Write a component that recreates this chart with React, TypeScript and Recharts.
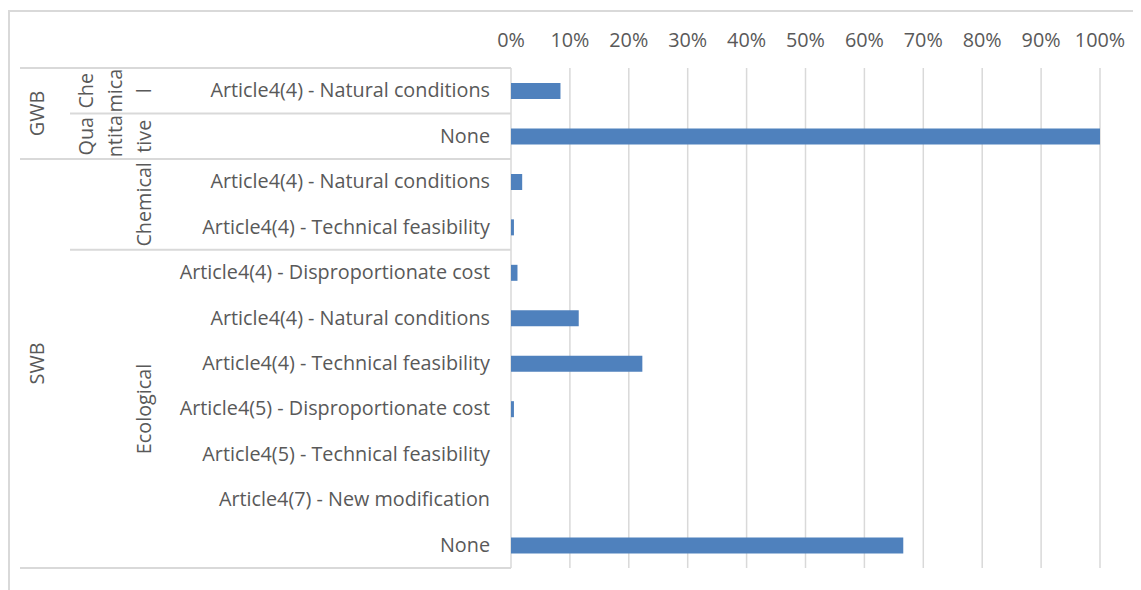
import React from "react";
import { BarChart, Bar, XAxis, YAxis, CartesianGrid } from "recharts";

// ---- data ----
const categoryLabels = [
  "Article4(4) - Natural conditions",
  "None",
  "Article4(4) - Natural conditions",
  "Article4(4) - Technical feasibility",
  "Article4(4) - Disproportionate cost",
  "Article4(4) - Natural conditions",
  "Article4(4) - Technical feasibility",
  "Article4(5) - Disproportionate cost",
  "Article4(5) - Technical feasibility",
  "Article4(7) - New modification",
  "None",
];
const shareValues = [0.084, 1.0, 0.019, 0.005, 0.011, 0.115, 0.223, 0.005, 0, 0, 0.666];
const level0Groups = [
  { name: "GWB", start: 0, count: 2 },
  { name: "SWB", start: 2, count: 9 },
];
const level1Groups = [
  { name: "Chemical", lines: ["Che", "mica", "l"], start: 0, count: 1 },
  { name: "Quantitative", lines: ["Qua", "ntita", "tive"], start: 1, count: 1 },
  { name: "Chemical", lines: ["Chemical"], start: 2, count: 2 },
  { name: "Ecological", lines: ["Ecological"], start: 4, count: 7 },
];
const xTicks = [0, 0.1, 0.2, 0.3, 0.4, 0.5, 0.6, 0.7, 0.8, 0.9, 1];

const data = categoryLabels.map((label, i) => ({ id: String(i), label, value: shareValues[i] }));

// ---- layout ----
const W = 1133;
const H = 582;
const MARGIN = { top: 30, right: 41, bottom: 22, left: 0 };
const X_AXIS_H = 30;
const Y_AXIS_W = 503;
const PLOT_TOP = MARGIN.top + X_AXIS_H;
const PLOT_H = H - PLOT_TOP - MARGIN.bottom;
const AXIS_X = MARGIN.left + Y_AXIS_W;
const FONT = "'Open Sans', 'Noto Sans', sans-serif";
const FS = 19.8;
const TEXT = "#595959";
const GRID = "#d9d9d9";
const BLUE = "#4F81BD";

function CategoryTick(props: any) {
  const { y, index } = props;
  const step = PLOT_H / categoryLabels.length;
  const top = y - step / 2;
  const els: React.ReactNode[] = [];
  els.push(
    <text key="t" x={AXIS_X - 21} y={y - 1} textAnchor="end" dominantBaseline="central"
      fill={TEXT} fontSize={FS} fontFamily={FONT}>
      {categoryLabels[index]}
    </text>
  );
  const g0 = level0Groups.find((g) => g.start === index);
  const g1 = level1Groups.find((g) => g.start === index);
  if (g0) {
    els.push(<line key="l0" x1={12} x2={AXIS_X} y1={top} y2={top} stroke={GRID} strokeWidth={2} />);
    const cy = y + ((g0.count - 1) * step) / 2;
    els.push(
      <text key="g0" x={29} y={cy} transform={`rotate(-90, 29, ${cy})`} textAnchor="middle"
        dominantBaseline="central" fill={TEXT} fontSize={FS} fontFamily={FONT}>
        {g0.name}
      </text>
    );
  } else if (g1) {
    els.push(<line key="l1" x1={62} x2={AXIS_X} y1={top} y2={top} stroke={GRID} strokeWidth={2} />);
  }
  if (g1) {
    const cy = y + ((g1.count - 1) * step) / 2;
    const n = g1.lines.length;
    g1.lines.forEach((ln, k) => {
      const lx = 136 - (n - 1 - k) * 29;
      els.push(
        <text key={"g1" + k} x={lx} y={cy} transform={`rotate(-90, ${lx}, ${cy})`} textAnchor="middle"
          dominantBaseline="central" fill={TEXT} fontSize={FS} fontFamily={FONT}>
          {ln}
        </text>
      );
    });
  }
  if (index === categoryLabels.length - 1) {
    const b = y + step / 2;
    els.push(<line key="lb" x1={12} x2={AXIS_X} y1={b} y2={b} stroke={GRID} strokeWidth={2} />);
  }
  return <g>{els}</g>;
}

export default function App() {
  return (
    <div style={{ position: "relative", width: W, height: H, fontFamily: FONT }}>
      <div style={{ position: "absolute", left: 0, top: 2, width: W, height: H - 2,
        borderLeft: `2px solid ${GRID}`, borderTop: `2px solid ${GRID}`, boxSizing: "border-box" }} />
      <div style={{ position: "absolute", left: 0, top: 0 }}>
        <BarChart width={W} height={H} data={data} layout="vertical" margin={MARGIN} barSize={16}>
          <CartesianGrid horizontal={false} stroke={GRID} strokeWidth={1.5} verticalValues={xTicks} />
          <XAxis type="number" orientation="top" domain={[0, 1]} ticks={xTicks} height={X_AXIS_H}
            axisLine={false} tickLine={false} tickSize={0} tickMargin={21}
            tickFormatter={(v: number) => `${Math.round(v * 100)}%`}
            tick={{ fill: TEXT, fontSize: FS, fontFamily: FONT }} />
          <YAxis type="category" dataKey="id" width={Y_AXIS_W} axisLine={false} tickLine={false}
            interval={0} tick={<CategoryTick />} />
          <Bar dataKey="value" fill={BLUE} isAnimationActive={false} />
        </BarChart>
      </div>
    </div>
  );
}
